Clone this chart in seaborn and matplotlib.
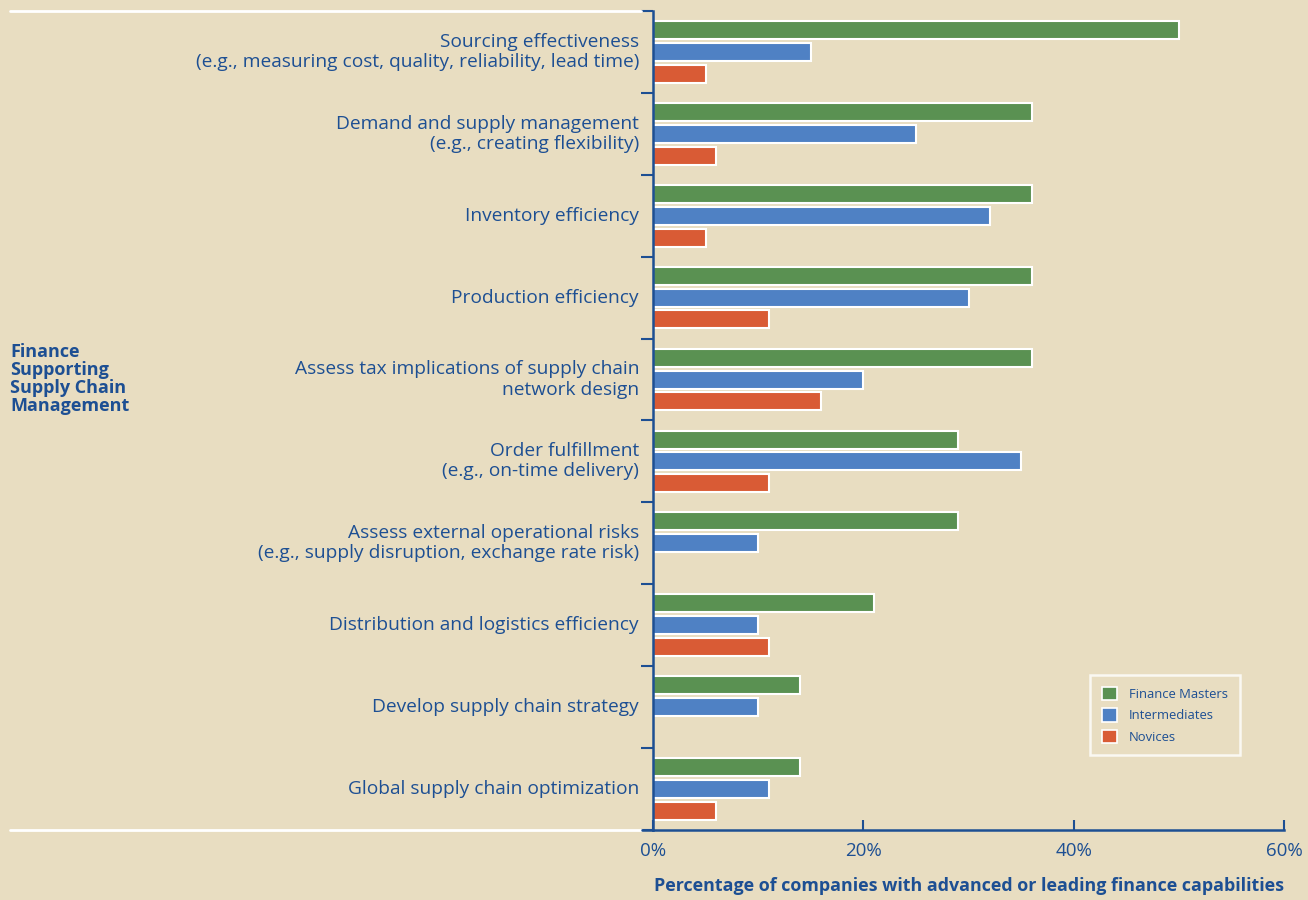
import numpy as np
import pandas as pd
import matplotlib
matplotlib.use('Agg')
import matplotlib.pyplot as plt
from matplotlib.lines import Line2D
import seaborn as sns

# ── 数据 ──────────────────────────────────────────────────────────────────────
categories = [
    'Sourcing effectiveness\n(e.g., measuring cost, quality, reliability, lead time)',
    'Demand and supply management\n(e.g., creating flexibility)',
    'Inventory efficiency',
    'Production efficiency',
    'Assess tax implications of supply chain\nnetwork design',
    'Order fulfillment\n(e.g., on-time delivery)',
    'Assess external operational risks\n(e.g., supply disruption, exchange rate risk)',
    'Distribution and logistics efficiency',
    'Develop supply chain strategy',
    'Global supply chain optimization',
]
groups = ['Finance Masters', 'Intermediates', 'Novices']
finance_masters = [50, 36, 36, 36, 36, 29, 29, 21, 14, 14]
intermediates   = [15, 25, 32, 30, 20, 35, 10, 10, 10, 11]
novices         = [5, 6, 5, 11, 16, 11, None, 11, None, 6]   # None = no bar
x_ticks = [0, 20, 40, 60]

BG    = '#e8ddc1'
TEXT  = '#1d4f93'
COLS  = ['#5a9152', '#4f81c4', '#d95b35']

rows = []
for cat, a, b, c in zip(categories, finance_masters, intermediates, novices):
    for g, v in zip(groups, (a, b, c)):
        if v is not None:
            rows.append({'cat': cat, 'group': g, 'value': v})
df = pd.DataFrame(rows)

# ── 绘图 ──────────────────────────────────────────────────────────────────────
sns.set_style('ticks')
plt.rcParams['font.family'] = ['Open Sans', 'DejaVu Sans']

fig = plt.figure(figsize=(13.08, 9), dpi=100, facecolor=BG)
ax = fig.add_axes([0.4992, 0.0778, 0.9817 - 0.4992, 0.9878 - 0.0778])
ax.set_facecolor(BG)

sns.barplot(data=df, y='cat', x='value', hue='group', order=categories,
            hue_order=groups, palette=COLS, saturation=1, orient='h', width=0.8,
            edgecolor='white', linewidth=1.5, ax=ax)

# shrink bars a little so gaps show between them
for p in ax.patches:
    h = p.get_height()
    if h > 0.5 or h == 0:
        continue
    p.set_y(p.get_y() + (h - 0.22) / 2)
    p.set_height(0.22)

ax.set_xlim(0, 60)
ax.set_ylim(len(categories) - 0.5, -0.5)
ax.set_xticks(x_ticks)
ax.set_xticklabels([f'{t}%' for t in x_ticks], color=TEXT, fontsize=13.5)
ax.tick_params(axis='x', direction='in', length=7, width=1.5, color=TEXT, pad=9)

ax.set_yticks(range(len(categories)))
ax.set_yticklabels(categories, color=TEXT, fontsize=13.8, linespacing=1.15,
                   va='center')
ax.set_yticks(np.arange(-0.5, len(categories), 1), minor=True)
ax.tick_params(axis='y', which='major', length=0, pad=10)
ax.tick_params(axis='y', which='minor', length=9, width=1.5, color=TEXT, direction='out')

for s in ['top', 'right']:
    ax.spines[s].set_visible(False)
for s in ['left', 'bottom']:
    ax.spines[s].set_color(TEXT)
    ax.spines[s].set_linewidth(1.8)

ax.set_ylabel('')
ax.set_xlabel('Percentage of companies with advanced or leading finance capabilities',
              color=TEXT, fontsize=12.9, fontweight='bold')
ax.xaxis.set_label_coords(0.5, -0.058)

# legend
leg = ax.legend(loc='lower right', bbox_to_anchor=(0.940, 0.083), frameon=True,
                fontsize=9.4, labelcolor=TEXT, handlelength=1.2, handleheight=1.2,
                handletextpad=0.9, borderpad=0.9, labelspacing=0.55, fancybox=False)
leg.get_frame().set_facecolor(BG)
leg.get_frame().set_edgecolor('white')
leg.get_frame().set_linewidth(1.8)
for h in leg.legend_handles:
    h.set_edgecolor('white')
    h.set_linewidth(1.2)

# white rules left of the axis
W, H = 1308, 900
for yy in (11, 830):
    fig.add_artist(Line2D([10 / W, 641 / W], [1 - yy / H, 1 - yy / H],
                          color='white', lw=2, transform=fig.transFigure))
fig.add_artist(Line2D([642 / W, 653 / W], [1 - 830 / H, 1 - 830 / H],
                      color=TEXT, lw=1.8, transform=fig.transFigure))

fig.text(10 / W, 1 - 343 / H, 'Finance\nSupporting\nSupply Chain\nManagement',
         color=TEXT, fontsize=13, fontweight='bold',
         ha='left', va='top', linespacing=1.0)

fig.savefig('out.png', dpi=100, facecolor=BG)
